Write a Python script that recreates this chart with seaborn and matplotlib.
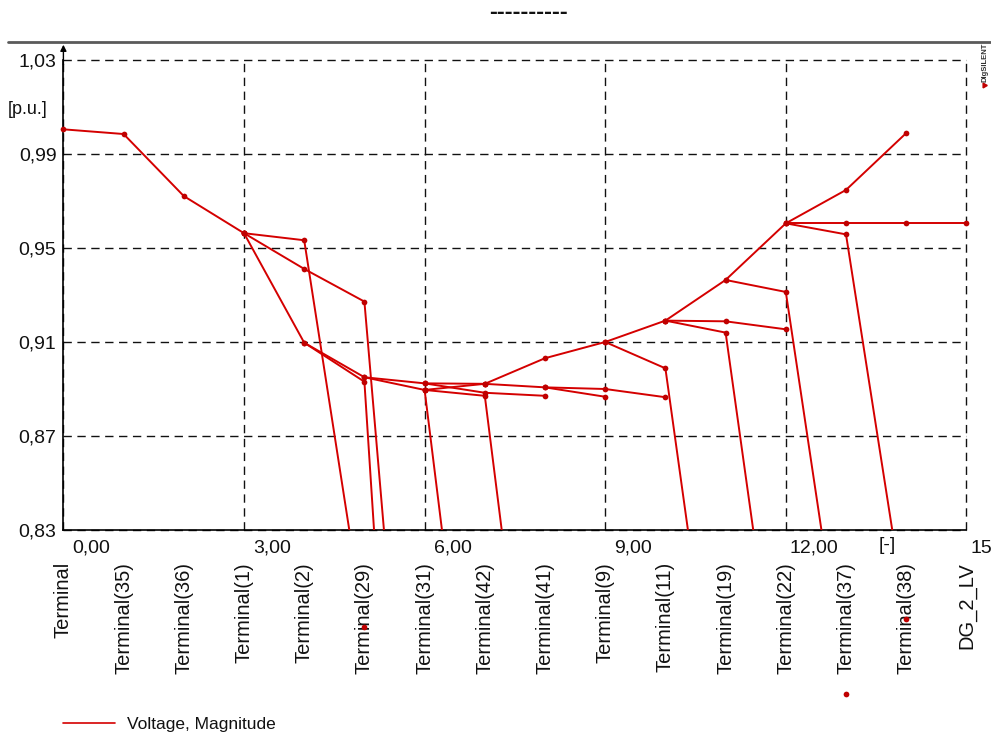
import numpy as np
import pandas as pd
import matplotlib
matplotlib.use("Agg")
import matplotlib.pyplot as plt
from matplotlib.lines import Line2D
from matplotlib.transforms import ScaledTranslation
import seaborn as sns

# Busbars along the feeder (x position = index)
terminals = ["Terminal", "Terminal(35)", "Terminal(36)", "Terminal(1)", "Terminal(2)",
             "Terminal(29)", "Terminal(31)", "Terminal(42)", "Terminal(41)", "Terminal(9)",
             "Terminal(11)", "Terminal(19)", "Terminal(22)", "Terminal(37)", "Terminal(38)",
             "DG_2_LV"]

# Voltage magnitude [p.u.] along each branch of the profile
feeder_x = [0, 1, 2, 3]
feeder_v = [1.0005, 0.9985, 0.9721, 0.9563]

trunk_x = [3, 4, 5, 6, 7, 8, 9, 10, 11, 12, 13, 14]
trunk_v = [0.9563, 0.9097, 0.8950, 0.8924, 0.8922, 0.9031, 0.9100, 0.9191, 0.9364,
           0.9605, 0.9747, 0.9989]

br01_x, br01_v = [3, 4, 5], [0.9563, 0.9533, 0.7887]
br02_x, br02_v = [3, 4, 5, 6], [0.9563, 0.9411, 0.9272, 0.628]
br03_x, br03_v = [4, 5, 6], [0.9097, 0.8931, 0.499]
br04_x, br04_v = [5, 6, 7], [0.8950, 0.8896, 0.683]
br05_x, br05_v = [6, 7, 8], [0.8924, 0.8884, 0.8871]
br06_x, br06_v = [6, 7], [0.8896, 0.8922]
br07_x, br07_v = [6, 7, 8], [0.8896, 0.8871, 0.684]
br08_x, br08_v = [7, 8, 9, 10], [0.8922, 0.8907, 0.8900, 0.8865]
br09_x, br09_v = [8, 9], [0.8907, 0.8867]
br10_x, br10_v = [9, 10, 11], [0.9100, 0.8988, 0.715]
br11_x, br11_v = [10, 11, 12], [0.9191, 0.9188, 0.9154]
br12_x, br12_v = [10, 11, 12], [0.9191, 0.9140, 0.731]
br13_x, br13_v = [11, 12, 13], [0.9364, 0.9313, 0.7602]
br14_x, br14_v = [12, 13, 14, 15], [0.9605, 0.9605, 0.9605, 0.9605]
br15_x, br15_v = [12, 13, 14], [0.9605, 0.9558, 0.7921]

x_ticks = [0, 3, 6, 9, 12, 15]
x_ticklabels = ["0,00", "3,00", "6,00", "9,00", "12,00", "15,00"]
y_ticks = [0.83, 0.87, 0.91, 0.95, 0.99, 1.03]
y_ticklabels = ["0,83", "0,87", "0,91", "0,95", "0,99", "1,03"]

branches = {
    "feeder": (feeder_x, feeder_v), "trunk": (trunk_x, trunk_v),
    "br01": (br01_x, br01_v), "br02": (br02_x, br02_v), "br03": (br03_x, br03_v),
    "br04": (br04_x, br04_v), "br05": (br05_x, br05_v), "br06": (br06_x, br06_v),
    "br07": (br07_x, br07_v), "br08": (br08_x, br08_v), "br09": (br09_x, br09_v),
    "br10": (br10_x, br10_v), "br11": (br11_x, br11_v), "br12": (br12_x, br12_v),
    "br13": (br13_x, br13_v), "br14": (br14_x, br14_v), "br15": (br15_x, br15_v),
}
rows = []
for name, (xs, vs) in branches.items():
    for order, (xx, vv) in enumerate(zip(xs, vs)):
        rows.append({"branch": name, "order": order, "pos": xx, "volt": vv})
df = pd.DataFrame(rows)

sns.set_style("white")
plt.rcParams["font.family"] = ["Liberation Sans", "DejaVu Sans"]

LINE_RED = "#d40000"
DOT_RED = "#c00000"
DPI = 100
W, H = 991, 737

fig = plt.figure(figsize=(W / DPI, H / DPI), dpi=DPI)
ax = fig.add_axes([63.4 / W, 1 - 530 / H, 903 / W, 470 / H])

sns.lineplot(data=df, x="pos", y="volt", units="branch", estimator=None, sort=False,
             color=LINE_RED, lw=1.4, ax=ax, legend=False, zorder=3)
sns.scatterplot(data=df, x="pos", y="volt", color=DOT_RED, s=17, linewidth=0,
                ax=ax, legend=False, zorder=4)
ax.collections[-1].set_clip_on(False)

ax.set_xlim(0, 15)
ax.set_ylim(0.83, 1.03)
ax.set_xlabel("")
ax.set_ylabel("")

# dashed grid
ax.set_xticks(x_ticks)
ax.set_xticks([1.5, 4.5, 7.5, 10.5, 13.5], minor=True)
ax.set_yticks(y_ticks)
ax.set_yticks([0.85, 0.89, 0.93, 0.97, 1.01], minor=True)
ax.grid(True, which="major", color="#111111", lw=1.0, linestyle=(0, (6, 4)))
for gl in ax.get_xgridlines() + ax.get_ygridlines():
    gl.set_clip_on(False)
ax.set_axisbelow(True)

for side in ("top", "right"):
    ax.spines[side].set_visible(False)
for side in ("left", "bottom"):
    ax.spines[side].set_color("black")
    ax.spines[side].set_linewidth(1.2)

ax.tick_params(which="major", direction="in", length=5, width=1, color="black",
               labelsize=14, labelcolor="#111111")
ax.tick_params(which="minor", direction="in", length=3.5, width=1, color="black")
ax.tick_params(axis="y", pad=5)
ax.tick_params(axis="x", pad=7)
ax.set_xticklabels(x_ticklabels)
ax.set_yticklabels(y_ticklabels)
shift = ScaledTranslation(28 / DPI, 0, fig.dpi_scale_trans)
for lab in ax.get_xticklabels():
    lab.set_transform(lab.get_transform() + shift)

# arrow on the value axis
ax.annotate("", xy=(0, 1.0365), xytext=(0, 1.028), annotation_clip=False,
            arrowprops=dict(arrowstyle="-|>", color="black", lw=1.0, mutation_scale=9,
                            shrinkA=0, shrinkB=0))

# busbar names under the axis
name_tr = ax.get_xaxis_transform() + ScaledTranslation(0, -32 / DPI, fig.dpi_scale_trans)
for i, name in enumerate(terminals):
    ax.text(i, 0, name, transform=name_tr, rotation=90, ha="center", va="top",
            fontsize=14.5, color="#111111", clip_on=False)

# axis units
fig.text(8 / W, 1 - 110 / H, "[p.u.]", ha="left", va="center", fontsize=13, color="#111111")
fig.text(887 / W, 1 - 546 / H, "[-]", ha="center", va="center", fontsize=14, color="#111111")

# title and frame line
fig.text(528 / W, 1 - 12 / H, "----------", ha="center", va="center", fontsize=17,
         fontweight="bold", color="#111111")
fig.add_artist(Line2D([8 / W, 1.0], [1 - 42 / H, 1 - 42 / H], transform=fig.transFigure,
                      color="#5a5a5a", lw=2.0))

# logo
fig.text(985 / W, 1 - 62 / H, "DIgSILENT", rotation=90, ha="center", va="center",
         fontsize=5.5, fontweight="bold", color="#333333")
fig.add_artist(Line2D([983.5 / W], [1 - 85 / H], transform=fig.transFigure, marker=(3, 0, 30),
                      markersize=4, color="#c00000", linestyle="none"))

# legend
fig.legend(handles=[Line2D([], [], color=LINE_RED, lw=1.2)], labels=["Voltage, Magnitude"],
           loc="center left", bbox_to_anchor=(63 / W, 1 - 724 / H), frameon=False,
           fontsize=12.5, handlelength=3.0, handletextpad=0.7, borderpad=0,
           borderaxespad=0, labelcolor="#111111")

fig.savefig("out.png", dpi=DPI)
